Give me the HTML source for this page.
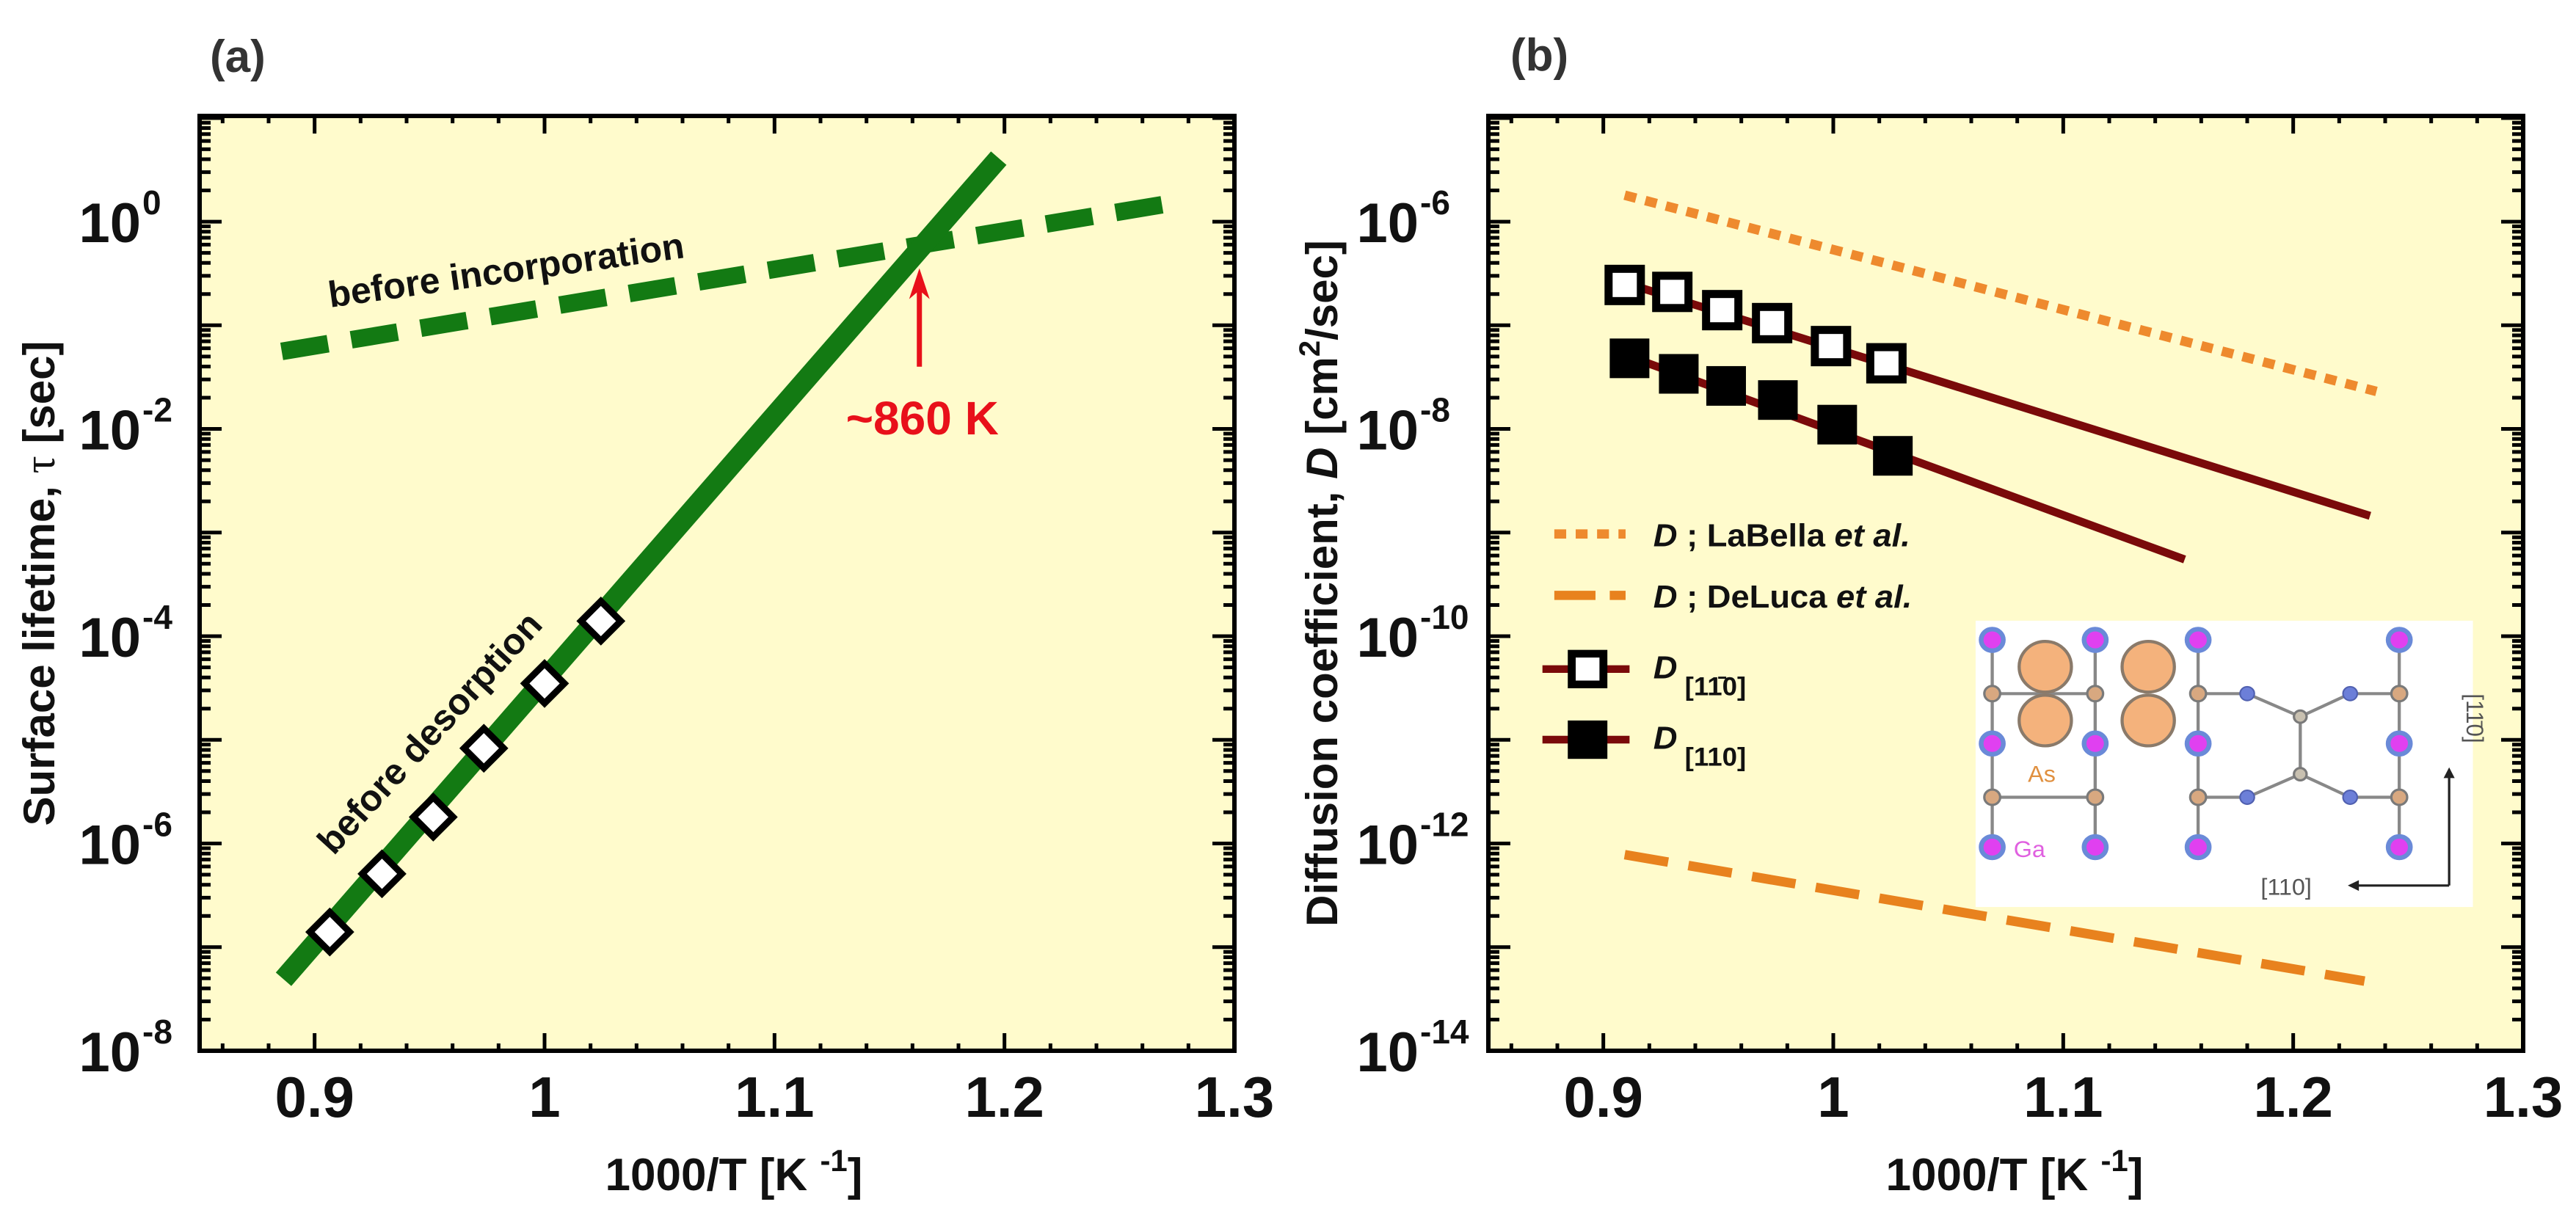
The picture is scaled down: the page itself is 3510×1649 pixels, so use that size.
<!DOCTYPE html>
<html><head><meta charset="utf-8"><style>
html,body{margin:0;padding:0;background:#fff;}
svg{display:block;font-family:"Liberation Sans",sans-serif;}
</style></head><body>
<svg id="fig" xmlns="http://www.w3.org/2000/svg" width="3510" height="1649" viewBox="0 0 3510 1649">
<text x="286" y="98" font-size="62" font-weight="bold" fill="#333">(a)</text>
<text x="2058" y="96" font-size="62" font-weight="bold" fill="#333">(b)</text>
<text transform="translate(74,795) rotate(-90)" text-anchor="middle" font-size="60" font-weight="bold" fill="#111">Surface lifetime,  <tspan font-family="Liberation Serif" font-weight="normal">τ</tspan>  [sec]</text>
<text transform="translate(1822,795) rotate(-90)" text-anchor="middle" font-size="60" font-weight="bold" fill="#111">Diffusion coefficient,  <tspan font-style="italic">D</tspan>  [cm<tspan font-size="40" dy="-24">2</tspan><tspan dy="24">/sec]</tspan></text>
<text x="1000" y="1622" text-anchor="middle" font-size="62" font-weight="bold" fill="#111">1000/T [K <tspan font-size="42" dy="-26">-1</tspan><tspan dy="26">]</tspan></text>
<text x="2745" y="1622" text-anchor="middle" font-size="62" font-weight="bold" fill="#111">1000/T [K <tspan font-size="42" dy="-26">-1</tspan><tspan dy="26">]</tspan></text>
<g id="ga"></g>
<g id="gb"></g>
</svg>
<script>
// ---- Panel (a) data ----
const desorbX = [0.8865, 1.1975];
const desorbY = [4.9e-8, 4.1];
const incorpX = [0.8857, 1.2744];
const incorpY = [0.056, 1.53];
const markX = [0.9066, 0.9293, 0.9516, 0.9736, 1.0, 1.0245];
const markY = [1.4e-7, 5.1e-7, 1.8e-6, 8.3e-6, 3.5e-5, 1.4e-4];
const xTickLabels = ["0.9", "1", "1.1", "1.2", "1.3"];
const xTickVals = [0.9, 1.0, 1.1, 1.2, 1.3];
const yTickExpA = [0, -2, -4, -6, -8];
// ---- Panel (b) data ----
const labellaX = [0.9093, 1.2362];
const labellaY = [1.8e-6, 2.3e-8];
const delucaX = [0.9093, 1.231];
const delucaY = [7.8e-13, 4.7e-14];
const fitOpenX = [0.9086, 1.2334];
const fitOpenY = [2.6e-7, 1.45e-9];
const fitFilledX = [0.9114, 1.1528];
const fitFilledY = [5.0e-8, 5.5e-10];
const openX = [0.9093, 0.93, 0.9517, 0.9734, 0.999, 1.0231];
const openY = [2.45e-7, 2.1e-7, 1.4e-7, 1.05e-7, 6.3e-8, 4.3e-8];
const filledX = [0.9114, 0.9328, 0.9534, 0.9759, 1.0017, 1.0259];
const filledY = [4.8e-8, 3.4e-8, 2.6e-8, 1.9e-8, 1.1e-8, 5.5e-9];
const yTickExpB = [-6, -8, -10, -12, -14];

const NS = "http://www.w3.org/2000/svg";
function mk(parent, tag, attrs) {
  const e = document.createElementNS(NS, tag);
  for (const k in attrs) e.setAttribute(k, attrs[k]);
  parent.appendChild(e);
  return e;
}
const T = 158, B = 1432, W = 1410, XMIN = 0.85, XMAX = 1.3;
function makeAxes(L, lmin, lmax) {
  return {
    x: v => L + (v - XMIN) / (XMAX - XMIN) * W,
    y: v => B - (Math.log10(v) - lmin) / (lmax - lmin) * (B - T),
    yl: l => B - (l - lmin) / (lmax - lmin) * (B - T)
  };
}
function drawFrame(g, L, lmin, lmax, exps, labelGap) {
  const ax = makeAxes(L, lmin, lmax);
  const bg = mk(g, "rect", {x: L, y: T, width: W, height: B - T, fill: "#fffbcc"});
  
  
  let d = "";
  // x ticks
  for (let i = 0; i <= 22; i++) {
    const v = 0.86 + i * 0.02;
    if (v > XMAX + 1e-9) break;
    const px = ax.x(v);
    const major = Math.abs((v * 10) - Math.round(v * 10)) < 1e-6 && Math.round(v * 100) % 10 === 0;
    const len = major ? 24 : 10;
    d += `M${px},${B}v${-len}M${px},${T}v${len}`;
  }
  // y ticks
  for (let l = Math.ceil(lmin); l <= Math.floor(lmax); l++) {
    for (let m = 1; m <= 9; m++) {
      const ll = l + Math.log10(m);
      if (ll > lmax) break;
      const py = ax.yl(ll);
      const len = m === 1 ? 30 : 15;
      d += `M${L},${py}h${len}M${L + W},${py}h${-len}`;
    }
  }
  const tk = mk(g, "path", {d: d, stroke: "#000", "stroke-width": 5, fill: "none"});
  
  
  const fr = mk(g, "rect", {x: L, y: T, width: W, height: B - T, fill: "none", stroke: "#000", "stroke-width": 6});
  
  
  xTickVals.forEach((v, i) => {
    const t = mk(g, "text", {x: ax.x(v), y: 1522, "text-anchor": "middle", "font-size": 78, "font-weight": "bold", fill: "#111"});
    t.textContent = xTickLabels[i];
    
    
  });
  exps.forEach(e => {
    const py = ax.yl(e);
    const t = mk(g, "text", {x: L - labelGap, y: py + 28, "text-anchor": "end", "font-size": 76, "font-weight": "bold", fill: "#111"});
    t.textContent = "10";
    
    
    const s = mk(g, "text", {x: L - labelGap + 2, y: py - 10, "font-size": 46, "font-weight": "bold", fill: "#111"});
    s.textContent = e === 0 ? "0" : "-" + Math.abs(e);
    
    
  });
  return ax;
}
function line(g, ax, xs, ys, attrs) {
  const pts = xs.map((x, i) => ax.x(x) + "," + ax.y(ys[i])).join(" ");
  attrs.points = pts; attrs.fill = "none";
  return mk(g, "polyline", attrs);
}

// ---- Panel a ----
const ga = document.getElementById("ga");
const A = drawFrame(ga, 272, -8, 1.02, yTickExpA, 80);
const clipA = mk(ga, "g", {});


const inc = line(clipA, A, incorpX, incorpY, {stroke: "#137a13", "stroke-width": 24, "stroke-dasharray": "64 32"});


const des = line(clipA, A, desorbX, desorbY, {stroke: "#137a13", "stroke-width": 28});


markX.forEach((x, i) => {
  const cx = A.x(x), cy = A.y(markY[i]);
  const p = mk(clipA, "polygon", {points: `${cx},${cy - 27} ${cx + 27},${cy} ${cx},${cy + 27} ${cx - 27},${cy}`, fill: "#fff", stroke: "#000", "stroke-width": 9});
  
  
});
const t1 = mk(ga, "text", {transform: "translate(692,385) rotate(-8)", "text-anchor": "middle", "font-size": 50, "font-weight": "bold", fill: "#111"});
t1.textContent = "before incorporation";


const t2 = mk(ga, "text", {transform: "translate(598,1010) rotate(-47.6)", "text-anchor": "middle", "font-size": 50, "font-weight": "bold", fill: "#111"});
t2.textContent = "before desorption";


const arX = A.x(1.163), arY0 = A.yl(-1.40), arY1 = A.yl(-0.45);
const ar = mk(ga, "path", {d: `M${arX},${arY0}V${arY1 + 30}`, stroke: "#e8101a", "stroke-width": 7});


const ah = mk(ga, "polygon", {points: `${arX},${arY1} ${arX - 14},${arY1 + 42} ${arX},${arY1 + 30} ${arX + 14},${arY1 + 42}`, fill: "#e8101a"});


const t3 = mk(ga, "text", {x: arX + 4, y: 592, "text-anchor": "middle", "font-size": 64, "font-weight": "bold", fill: "#e8101a"});
t3.textContent = "~860 K";



// ---- Panel b ----
const gb = document.getElementById("gb");
const Bx = drawFrame(gb, 2028, -14, -4.98, yTickExpB, 95);
const lb = line(gb, Bx, labellaX, labellaY, {stroke: "#ee8a2e", "stroke-width": 13, "stroke-dasharray": "16 13"});


const dl = line(gb, Bx, delucaX, delucaY, {stroke: "#e8821e", "stroke-width": 13, "stroke-dasharray": "60 28"});


const fo = line(gb, Bx, fitOpenX, fitOpenY, {stroke: "#7a0a0a", "stroke-width": 11});


const ff = line(gb, Bx, fitFilledX, fitFilledY, {stroke: "#7a0a0a", "stroke-width": 11});


openX.forEach((x, i) => {
  const cx = Bx.x(x), cy = Bx.y(openY[i]);
  const r = mk(gb, "rect", {x: cx - 22, y: cy - 22, width: 44, height: 44, fill: "#fff", stroke: "#000", "stroke-width": 11});
  
  
});
filledX.forEach((x, i) => {
  const cx = Bx.x(x), cy = Bx.y(filledY[i]);
  const r = mk(gb, "rect", {x: cx - 27, y: cy - 27, width: 54, height: 54, fill: "#000"});
  
  
});
</script>
<svg width="0" height="0" style="position:absolute"></svg>
<script>
// legend + inset in display coordinates mapped into panel b
const fig = document.getElementById("fig");
const lg = document.createElementNS(NS, "g");
lg.setAttribute("transform", "translate(1772.6,24.8) scale(1.079,1.046)");


fig.appendChild(lg);
lg.innerHTML = `
<g font-weight="bold" font-size="42" fill="#111">
 <g>
  <line x1="320" y1="672" x2="410" y2="672" stroke="#ee8a2e" stroke-width="12" stroke-dasharray="15 12"/>
  <text x="445" y="688"><tspan font-style="italic">D</tspan> ; LaBella  <tspan font-style="italic">et al.</tspan></text>
 </g>
 <g>
  <line x1="320" y1="752" x2="410" y2="752" stroke="#e8821e" stroke-width="12" stroke-dasharray="52 18"/>
  <text x="445" y="768"><tspan font-style="italic">D</tspan> ; DeLuca  <tspan font-style="italic">et al.</tspan></text>
 </g>
 <g>
  <line x1="305" y1="848" x2="415" y2="848" stroke="#7a0a0a" stroke-width="10"/>
  <rect x="342" y="828" width="40" height="40" fill="#fff" stroke="#000" stroke-width="10"/>
  <text x="445" y="860"><tspan font-style="italic">D</tspan><tspan font-size="34" dy="22"> [11&#772;0]</tspan></text>
 </g>
 <g>
  <line x1="305" y1="940" x2="415" y2="940" stroke="#7a0a0a" stroke-width="10"/>
  <rect x="337" y="915" width="50" height="50" fill="#000"/>
  <text x="445" y="952"><tspan font-style="italic">D</tspan><tspan font-size="34" dy="22"> [110]</tspan></text>
 </g>
</g>
<g>
 <rect x="852" y="785" width="628" height="373" fill="#fff"/>
 <g stroke="#888" stroke-width="4" fill="none">
  <path d="M873,810V1080M1003,810V1080M1133,810V1080M1387,810V1080"/>
  <path d="M873,880H1003M1133,880H1195L1262,910L1325,880H1387M1133,1015H1195L1262,985L1325,1015H1387M1262,910V985"/>
  <path d="M873,1015H1003"/>
 </g>
 <g fill="#f4b27c" stroke="#8a7a6a" stroke-width="4">
  <circle cx="940" cy="845" r="33"/><circle cx="940" cy="915" r="33"/>
  <circle cx="1070" cy="845" r="33"/><circle cx="1070" cy="915" r="33"/>
 </g>
 <g fill="#d8a880" stroke="#7a7a7a" stroke-width="3">
  <circle cx="873" cy="880" r="10"/><circle cx="1003" cy="880" r="10"/><circle cx="1133" cy="880" r="10"/><circle cx="1387" cy="880" r="10"/>
  <circle cx="873" cy="1015" r="10"/><circle cx="1003" cy="1015" r="10"/><circle cx="1133" cy="1015" r="10"/><circle cx="1387" cy="1015" r="10"/>
  <circle cx="1262" cy="910" r="8" fill="#c8c0b0"/><circle cx="1262" cy="985" r="8" fill="#c8c0b0"/>
 </g>
 <g fill="#6c7fd8" stroke="#5060b0" stroke-width="2">
  <circle cx="1195" cy="880" r="9"/><circle cx="1325" cy="880" r="9"/><circle cx="1195" cy="1015" r="9"/><circle cx="1325" cy="1015" r="9"/>
 </g>
 <g fill="#e040f0" stroke="#6a8ad8" stroke-width="6">
  <circle cx="873" cy="810" r="14"/><circle cx="1003" cy="810" r="14"/><circle cx="1133" cy="810" r="14"/><circle cx="1387" cy="810" r="14"/>
  <circle cx="873" cy="945" r="14"/><circle cx="1003" cy="945" r="14"/><circle cx="1133" cy="945" r="14"/><circle cx="1387" cy="945" r="14"/>
  <circle cx="873" cy="1080" r="14"/><circle cx="1003" cy="1080" r="14"/><circle cx="1133" cy="1080" r="14"/><circle cx="1387" cy="1080" r="14"/>
 </g>
 <text x="918" y="995" font-size="30" fill="#e09040">As</text>
 <text x="900" y="1093" font-size="30" fill="#e060e0">Ga</text>
 <path d="M1450,1130H1325M1450,1130V980" stroke="#222" stroke-width="3" fill="none"/>
 <path d="M1322,1130l14,-7v14z M1450,976l-7,14h14z" fill="#222"/>
 <text x="1212" y="1142" font-size="30" fill="#555">[110]</text>
 <text transform="translate(1472,880) rotate(90)" font-size="30" fill="#555">[11&#772;0]</text>
</g>`;
</script>
</body></html>
